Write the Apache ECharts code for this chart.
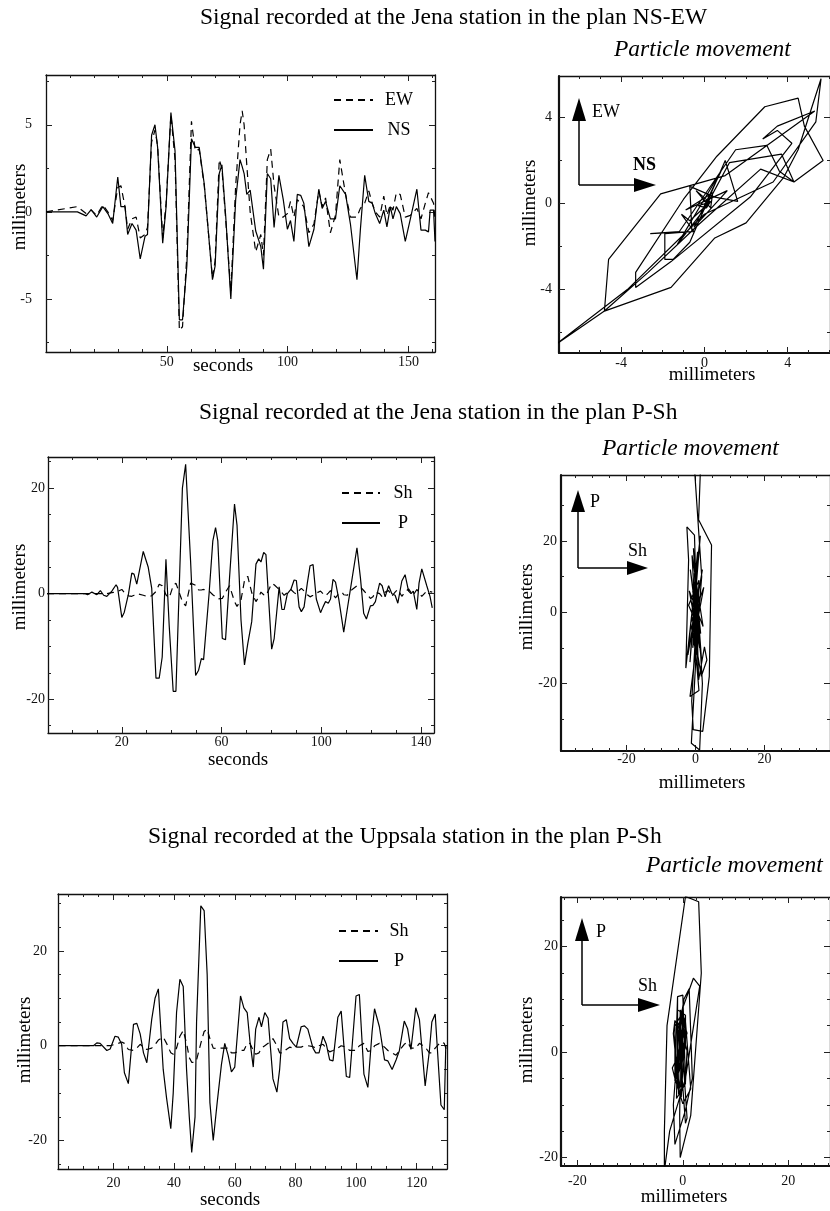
<!DOCTYPE html>
<html>
<head>
<meta charset="utf-8">
<script src="https://cdn.jsdelivr.net/npm/echarts@6/dist/echarts.min.js"></script>
<style>
  html, body { margin: 0; background: #fff; }
  #chart { width: 830px; height: 1211px; }
</style>
</head>
<body>
<div id="chart"></div>
<script>
// Jena, plan NS-EW (seconds / millimeters)
const t1 = [0, 13, 16.6, 18.7, 21, 23.5, 25.6, 27.6, 29.7, 31,
  32.7, 33.8, 35.6, 37.3, 39, 41, 42, 43.7, 45.1, 46.2,
  48.3, 49.7, 51.7, 53.4, 55.2, 56.5, 58.3, 60.2, 61.8, 63.4,
  65.5, 68.9, 70, 71.7, 72.8, 74.4, 76.5, 78.5, 80.3, 81.2,
  82, 83.1, 84.5, 86.8, 88.9, 90, 91.6, 93, 94.4, 96.4,
  98.2, 99.9, 101.2, 102.6, 104, 105.4, 106.7, 108.8, 110.9, 112.9,
  114.3, 115.7, 117.7, 119.8, 121.6, 124, 126, 128.7, 130.1, 131.9,
  133.6, 135, 136.3, 138.1, 139.8, 141.1, 142.5, 143.6, 145, 146.6,
  148.7, 150.8, 153.5, 155.2, 157, 158.3, 159, 160.4, 161];
const ns = [0, 0, -0.23, 0.13, -0.3, 0.3, -0.1, -0.67, 2.0, 0.3,
  0.3, -1.3, -0.67, -1.05, -2.7, -1.4, -1.3, 4.4, 5.0, 3.7,
  -1.8, 0.3, 5.7, 3.5, -6.2, -6.2, -3.1, 4.2, 3.7, 3.7,
  1.6, -3.9, -3.1, 2.2, 2.7, -0.3, -5.0, 0.7, 3.0, 2.6,
  2.2, 1.0, 1.25, -1.1, -2.0, -3.3, 2.2, 1.9, -0.9, 2.1,
  0.7, -1.0, -0.5, -1.7, 1.0, 0.95, 0.5, -2.0, -1.0, 1.3,
  0.2, 0.6, -0.4, -0.4, 1.5, 1.0, -0.7, -3.9, -1.05, 2.1,
  0.6, 0.5, -0.1, -0.67, 0.1, -0.86, 0.3, -0.4, 0.3, -0.1,
  -1.7, -0.4, 1.3, -1.05, -1.05, -1.15, 0.1, 0.1, -1.7];
const ew = [0, 0.3, -0.1, 0.1, -0.2, 0.4, 0, -0.5, 1.4, 1.5,
  0.3, -1.0, -0.4, -0.3, -1.5, -1.3, -0.9, 4.0, 4.7, 3.8,
  -1.5, 0.5, 5.6, 3.0, -6.8, -6.6, -2.5, 5.2, 3.5, 3.6,
  1.5, -3.8, -2.8, 3.0, 2.5, -0.5, -4.6, 1.5, 5.0, 5.8,
  5.0, 2.7, 0, -2.3, -1.3, -2.5, 3.0, 3.6, 1.5, -0.3,
  -0.3, -0.1, 0.6, -0.3, 0.7, 0.5, 0.3, -1.2, -0.7, 1.2,
  0.3, 0.8, -1.2, -0.2, 3.0, 1.0, -0.3, -0.3, 0.2, 0.5,
  1.2, 0.5, 0, -0.3, 0.9, -0.2, 0.4, 0.1, 1.1, 1.0,
  -0.3, -0.2, 0.2, -0.4, 0.5, 1.1, 1.0, 0.5, -0.5];

// particle path NS (x) / EW (y)
const pathNsEw = [[0, 0], [0.3, 0.1], [0.1, -0.2], [-0.3, -0.1], [0.25, 0.05],
  [-0.7, -0.8], [-1.1, -0.5], [-0.5, -1.3], [-1.9, -1.4], [-1.9, -2.6],
  [-1.5, -2.6], [-0.7, -1.8], [1.0, 2.0], [1.6, 0.1], [0.5, 0.3],
  [-0.7, 0.8], [-0.6, -1.3], [-2.6, -1.4], [-1.2, -1.3], [1.5, 2.5],
  [3.0, 2.7], [3.6, 1.5], [4.3, 1.0], [5.7, 2.0], [4.8, 3.6],
  [4.5, 4.9], [2.9, 4.5], [0.6, 2.2], [-1.0, 0.2], [-3.3, -3.2],
  [-3.3, -3.9], [-1.6, -2.7], [2.2, 0.3], [4.2, 2.8], [3.5, 3.4],
  [2.8, 3.0], [3.5, 3.6], [5.3, 4.3], [1.0, 1.3], [-2.1, 0.45],
  [-4.6, -2.6], [-4.8, -5.0], [-1.6, -3.9], [0.5, -1.6], [2.0, -0.9],
  [3.8, 1.2], [4.5, 2.5], [5.6, 5.8], [5.35, 3.8], [3.3, 1.0],
  [0.0, -0.5], [-3.7, -4.0], [-7.2, -6.6], [-4.8, -5.0], [-2.7, -3.2],
  [-0.3, -1.0], [2.7, 1.6], [4.3, 1.0], [3.7, 2.3], [1.2, 1.9],
  [0.2, 0.1], [-0.4, 0.6], [0.3, -0.2], [0.4, 0.5], [-0.9, -0.3],
  [1.1, 0.6], [-0.5, -1.1], [0.8, 1.5], [-1.3, -1.9], [0.2, 0.0]];

// Jena, plan P-Sh
const t3 = [-10, 5.4, 6.3, 8, 10, 11.4, 12.7, 14, 16, 17.7,
  18.3, 20, 21, 22.7, 24, 24.9, 26, 28.6, 30.6, 32,
  33.7, 35, 36.2, 37.7, 39, 40.6, 41.7, 44.3, 45.6, 47.6,
  49.6, 50.8, 51.9, 52.8, 55, 56.5, 57.6, 58.5, 60.3, 61.6,
  63.2, 65.2, 66.2, 67.8, 69.2, 70.5, 72.1, 73.8, 74.9, 75.8,
  76.9, 77.8, 80.1, 81.1, 83.1, 84.2, 85.1, 86.4, 87.8, 89.1,
  90, 91.1, 92, 93.1, 94.4, 95.5, 96.7, 98, 99.7, 100.7,
  101.7, 102.8, 103.7, 104.7, 105.7, 107, 108.4, 109, 110.4, 112.4,
  114.3, 115.7, 117, 118.1, 119.7, 120.7, 121.7, 123.4, 124.4, 125.6,
  127, 128.3, 129.6, 130.7, 132.3, 133.6, 135, 136, 136.9, 138.3,
  139.2, 140.3, 142.3, 143.6, 144.5];
const pJena = [0, 0, -0.2, 0.3, -0.2, 0.6, -0.3, -0.5, 0.5, 1.7,
  1.2, -4.5, -3.5, 0, 3.9, 3.7, 1.8, 8.0, 5.0, 1.0,
  -16, -16, -12, 6.5, -6, -18.5, -18.5, 20, 24.5, 6,
  -15.5, -14.5, -12.3, -12.5, 0, 10, 12.5, 10, -8.5, -8.7,
  3, 17, 13, -5, -13.5, -9.5, -5.3, 5.6, 6.6, 6.0,
  7.8, 7.4, -10.5, -8.5, 1.3, -3, -3, 0, 0.8, 2.6,
  2.5, -2.5, -3.4, -2.5, 2.0, 5.3, 5.5, -1, -3.6, -2.5,
  -1.5, -1.8, -1, 2.7, 2.2, -1, -5.4, -7.3, -3, 3,
  8.7, 3, -3.7, -4.8, -2.3, -2.2, -1.5, 2, 1.5, -0.6,
  1.5, 0, -0.3, -1.8, 2.4, 3.6, 0.5, 0, 0.5, -3,
  2, 4.7, 1.5, -0.5, -2.7];
const shJena = [0, 0, 0, 0, 0, 0, 0, 0, 0.2, 0.3,
  0.5, 0.8, 0.2, -0.4, -0.5, -0.3, 0, -0.3, -0.6, -0.4,
  0.4, 1.8, 1.5, -0.2, -0.8, 1.5, 2.0, -1.5, -2.3, 2.0,
  1.6, 0.7, 0.7, 0.8, 0.5, -0.2, -0.6, -1.0, -0.9, 0.3,
  1.5, -1.5, -2.4, -1.2, 2.5, 3.3, 0.2, -1.5, -0.6, 0.3,
  -0.2, -0.4, 1.9, 1.7, 0.8, 0.2, -0.3, 0.2, 0.8, 0.2,
  -0.1, 0.6, 1.0, 0.5, -0.2, -0.6, -0.3, 0.1, 0.5, 0,
  -0.4, 0.1, 0.6, -0.1, -0.8, 0, 0.2, -0.2, -0.3, 0.8,
  1.5, 1.3, 0.6, 0, -0.9, -0.6, 0.3, 0, -0.6, 0.3,
  0.6, -0.5, 0.3, 0.8, -0.5, 0.3, 0.9, 0.2, -0.3, 0.8,
  0.2, -0.5, 0.5, 0.4, 0.3];

// particle path Sh (x) / P (y) at Jena
const pathJena = [[0, 0], [0.8, 4], [-0.6, -3], [1.2, 8], [-1.3, -7],
  [2.0, 12], [-2.2, -12], [0.6, 17], [-1.6, -14], [1.4, 21.5],
  [-2.8, -15.7], [-2.0, 14.7], [-2.5, 24], [-0.3, 21.7], [0.9, -19],
  [2.6, -9.7], [3.3, -13.4], [1.7, -18], [-0.4, -6], [1.0, -22],
  [-1.6, -23.7], [-0.2, -13], [1.8, 10], [-0.4, 42], [1.5, 42],
  [0.9, 26], [4.65, 18.9], [4.0, -18], [2.1, -33.5], [-0.65, -33],
  [-1.1, -25], [0.5, 2], [1.2, -8], [-0.8, 6], [0.6, -4],
  [-1.2, -36.8], [1.2, -38.7], [2.0, -20], [0.3, 8], [-0.8, -10],
  [1.5, 5], [-0.5, 0], [0.5, -2], [-1.5, 12], [1.8, -14],
  [-0.6, 18], [1.2, -10], [-1.8, 6], [2.2, -4], [-1.0, 16],
  [0.8, -16], [-0.3, 11], [1.5, -6], [-2.0, 2], [1.0, 9],
  [0.2, -12], [-1.4, -3], [2.4, 7], [-0.5, -8], [0.7, 4], [0, 0]];

// Uppsala, plan P-Sh
const t5 = [1.9, 13.4, 14.5, 15.6, 17.8, 18.9, 20.5, 21.6, 22.7, 23.6,
  24.9, 26.6, 27.7, 28.8, 29.9, 31, 32.6, 33.7, 34.8, 36.4,
  37.5, 38.9, 39.7, 40.8, 41.9, 43, 44.1, 45, 45.8, 46.9,
  47.4, 48.8, 49.9, 50.9, 51.8, 52.9, 54.2, 55.6, 56.7, 57.8,
  58.9, 60, 61.9, 63, 64.1, 65, 66.1, 66.9, 68, 68.8,
  69.9, 71, 72.6, 73.9, 74.8, 75.9, 77, 78.1, 79.2, 80.3,
  81.9, 83, 84.1, 85.8, 86.7, 87.8, 89.1, 90.2, 91.3, 92.4,
  94, 95.1, 96.8, 97.9, 100, 101.1, 102.6, 103.9, 105.3, 106.1,
  107.7, 109.4, 110.5, 111.9, 113.2, 114.3, 115.9, 117, 118.1, 119.7,
  120.9, 122.8, 124.2, 125, 126.1, 128, 129.1, 129.6, 130.2];
const pUpp = [0, 0, 0.6, 0.5, -1, -0.7, 2.0, 1.8, 0.3, -5.7,
  -8, 4.5, 4.7, 2.5, -1.5, -3.6, 5.5, 10, 12, -5,
  -11, -17.5, -10, 7, 14, 12.5, -5, -15, -22.5, -15,
  5, 29.5, 28.5, 15, -12, -20, -12, -4, 0.5, -2,
  -5.5, -4.5, 10.5, 8, 7, 1, -4.5, 3.5, 6, 4,
  7, 5.8, -7, -9.8, -5, 5, 5.5, 1.5, 0.5, -0.3,
  4, 4.2, 3.5, -0.5, -1.5, -1.5, 2.0, 0.3, -3, -3.2,
  6, 7.3, -6.5, -6.7, 10.5, 10.8, -6, -8.8, 3, 7.8,
  4, -3, -3.2, -5, -3, -1, 5.2, 3.6, -0.8, 8,
  5.5, -8.5, -1, 5, 6.7, -12.5, -13.5, 0, 0];
const shUpp = [0, 0, 0, 0, 0, 0, 0.3, 0.5, 0.8, 0.5,
  -0.8, -1.0, -0.5, 0.3, -0.3, -0.8, -0.5, 0.2, 1.2, 1.8,
  0.5, -1.5, -1.8, -0.5, 2.0, 3.2, 0.5, -2.5, -3.5, -3.5,
  -3.0, 0.5, 3.0, 3.5, 1.5, -0.5, -0.6, -0.5, -0.5, -0.5,
  -1.5, -1.5, -1.0, -1.0, 0.5, 0.5, -1.0, -1.8, -1.5, -0.5,
  0, 0.5, 1.5, 0, -1.5, -1.5, -0.8, -0.3, -0.5, -0.3,
  -0.3, 0, 0, -0.2, -0.5, 0, 0.3, -0.5, -1.3, -1.0,
  -0.5, 0, -0.3, -1.0, -1.0, 0, 0.5, -1.2, -1.0, 0,
  0.5, -0.3, -1.0, -1.5, -2.0, -1.0, 0.3, 0.8, -0.5, -0.5,
  0.5, -0.3, -1.5, -1.5, -0.5, 0.8, 0.5, -0.5, -0.5];

const titles = [
  'Signal recorded at the Jena station in the plan NS-EW',
  'Signal recorded at the Jena station in the plan P-Sh',
  'Signal recorded at the Uppsala station in the plan P-Sh'
];

const serif = '"Liberation Serif", "DejaVu Serif", serif';

function steps(a, b, s, skip) {
  const out = [];
  for (let v = a; v <= b + 1e-9; v += s) {
    const r = Math.round(v * 100) / 100;
    if (!skip.includes(r)) out.push(r);
  }
  return out;
}

// layout of the six boxes (pixels) and their axis ranges / ticks
const panels = [
  { left: 46, top: 75, width: 389, height: 277, x: [0, 161], y: [-8.05, 7.86],
    xMajor: [50, 100, 150], xMinor: steps(10, 160, 10, [50, 100, 150]),
    yMajor: [-5, 0, 5], yMinor: [-7.5, -2.5, 2.5, 7.5], xm: 3, ym: 14, heavy: false },
  { left: 559, top: 76, width: 279, height: 277, x: [-6.98, 6.03], y: [-6.95, 5.93],
    xMajor: [-4, 0, 4], xMinor: steps(-6, 6, 1, [-4, 0, 4]),
    yMajor: [-4, 0, 4], yMinor: [-6, -2, 2], xm: 3, ym: 7, heavy: true },
  { left: 48, top: 457, width: 386, height: 276, x: [-9.6, 145.2], y: [-26.4, 25.9],
    xMajor: [20, 60, 100, 140], xMinor: steps(0, 140, 10, [20, 60, 100, 140]),
    yMajor: [-20, 0, 20], yMinor: steps(-25, 25, 5, [-20, 0, 20]), xm: 2, ym: 3, heavy: false },
  { left: 561, top: 475, width: 279, height: 276, x: [-39, 39], y: [-39, 38.6],
    xMajor: [-20, 0, 20], xMinor: steps(-35, 35, 5, [-20, 0, 20]),
    yMajor: [-20, 0, 20], yMinor: [-30, -10, 10, 30], xm: 1, ym: 4, heavy: true },
  { left: 58, top: 894, width: 389, height: 275, x: [1.7, 130], y: [-26, 32],
    xMajor: [20, 40, 60, 80, 100, 120], xMinor: steps(5, 125, 5, [20, 40, 60, 80, 100, 120]),
    yMajor: [-20, 0, 20], yMinor: steps(-25, 30, 5, [-20, 0, 20]), xm: 7, ym: 11, heavy: false },
  { left: 561, top: 897, width: 271, height: 269, x: [-23.1, 27.9], y: [-21.6, 29.4],
    xMajor: [-20, 0, 20], xMinor: steps(-22.5, 27.5, 2.5, [-20, 0, 20]),
    yMajor: [-20, 0, 20], yMinor: steps(-15, 25, 5, [-20, 0, 20]), xm: 8, ym: 3, heavy: true }
];

function axis(gi, pos, range, ticks, len, labels, margin, line, lw) {
  return {
    type: 'value', gridIndex: gi, position: pos, min: range[0], max: range[1],
    axisLine: { show: line, onZero: false, lineStyle: { color: '#111', width: lw } },
    axisTick: { show: true, inside: true, length: len, customValues: ticks,
      lineStyle: { color: '#222', width: 1 } },
    axisLabel: { show: !!labels, customValues: labels || [], margin: margin,
      color: '#111', fontFamily: serif, fontSize: 14 },
    splitLine: { show: false }
  };
}

const grid = [], xAxis = [], yAxis = [];
panels.forEach((p, i) => {
  grid.push({ left: p.left, top: p.top, width: p.width, height: p.height });
  const thick = p.heavy ? 2.2 : 1.3;
  xAxis.push(
    axis(i, 'bottom', p.x, p.xMajor, 6, p.xMajor, p.xm, true, thick),
    axis(i, 'bottom', p.x, p.xMinor, 3, null, 0, false, 1),
    axis(i, 'top', p.x, p.xMajor, 6, null, 0, true, 1.3),
    axis(i, 'top', p.x, p.xMinor, 3, null, 0, false, 1)
  );
  yAxis.push(
    axis(i, 'left', p.y, p.yMajor, 6, p.yMajor, p.ym, true, thick),
    axis(i, 'left', p.y, p.yMinor, 3, null, 0, false, 1),
    axis(i, 'right', p.y, p.yMajor, 6, null, 0, true, 1.3),
    axis(i, 'right', p.y, p.yMinor, 3, null, 0, false, 1)
  );
});

function trace(name, gi, data, dashed) {
  return {
    type: 'line', name: name, xAxisIndex: gi * 4, yAxisIndex: gi * 4,
    data: data, symbol: 'none', silent: true, color: '#000',
    lineStyle: { color: '#000', width: 1.2, type: dashed ? [7, 5] : 'solid' }
  };
}
const pairs = (a, b) => a.map((v, k) => [v, b[k]]);

const series = [
  trace('EW', 0, pairs(t1, ew), true),
  trace('NS', 0, pairs(t1, ns), false),
  trace('NS-EW path', 1, pathNsEw, false),
  trace('Sh', 2, pairs(t3, shJena), true),
  trace('P', 2, pairs(t3, pJena), false),
  trace('Jena P-Sh path', 3, pathJena, false),
  trace('Sh', 4, pairs(t5, shUpp), true),
  trace('P', 4, pairs(t5, pUpp), false),
  trace('Uppsala P-Sh path', 5, pairs(shUpp, pUpp), false)
];

function legendAt(names, left, top, w, tw) {
  return {
    data: names, left: left, top: top, orient: 'vertical', selectedMode: false,
    itemWidth: w, itemHeight: 14, itemGap: 12, padding: 0,
    itemStyle: { opacity: 0 },
    formatter: '{c|{name}}',
    textStyle: { rich: { c: { width: tw, align: 'center', fontSize: 18,
      fontFamily: serif, color: '#000' } } }
  };
}

const txt = (x, y, s, opt) => ({
  type: 'text', x: x, y: y, rotation: (opt && opt.rot) || 0,
  style: Object.assign({ text: s, fill: '#000', fontFamily: serif, fontSize: 19,
    align: 'center', verticalAlign: 'middle' }, opt && opt.style)
});
const seg = (x1, y1, x2, y2) => ({ type: 'line', shape: { x1, y1, x2, y2 },
  style: { stroke: '#000', lineWidth: 1.5 } });
const tri = (pts) => ({ type: 'polygon', shape: { points: pts }, style: { fill: '#000' } });

function axesCross(cx, cy, upTip, upBase, rightTip, rightBase, hw) {
  return [
    seg(cx, cy, cx, upBase), tri([[cx, upTip], [cx - hw, upBase], [cx + hw, upBase]]),
    seg(cx, cy, rightBase, cy), tri([[rightTip, cy], [rightBase, cy - hw], [rightBase, cy + hw]])
  ];
}

const ital = { fontStyle: 'italic', fontSize: 23.5, align: 'left' };
const big = { fontSize: 23.5, align: 'left' };
const graphic = [
  txt(200, 18, titles[0], { style: big }),
  txt(199, 413, titles[1], { style: big }),
  txt(148, 837, titles[2], { style: big }),
  txt(614, 50, 'Particle movement', { style: ital }),
  txt(602, 449, 'Particle movement', { style: ital }),
  txt(646, 866, 'Particle movement', { style: ital }),
  txt(20, 207, 'millimeters', { rot: Math.PI / 2 }),
  txt(223, 366, 'seconds'),
  txt(530, 203, 'millimeters', { rot: Math.PI / 2 }),
  txt(712, 375, 'millimeters'),
  txt(20, 587, 'millimeters', { rot: Math.PI / 2 }),
  txt(238, 760, 'seconds'),
  txt(527, 607, 'millimeters', { rot: Math.PI / 2 }),
  txt(702, 783, 'millimeters'),
  txt(25, 1040, 'millimeters', { rot: Math.PI / 2 }),
  txt(230, 1200, 'seconds'),
  txt(527, 1040, 'millimeters', { rot: Math.PI / 2 }),
  txt(684, 1197, 'millimeters'),
  ...axesCross(579, 185, 98, 121, 656, 634, 7),
  txt(592, 112, 'EW', { style: { align: 'left', fontSize: 18 } }),
  txt(633, 165, 'NS', { style: { align: 'left', fontSize: 18, fontWeight: 'bold' } }),
  ...axesCross(578, 568, 490, 512, 648, 627, 7),
  txt(590, 502, 'P', { style: { align: 'left', fontSize: 18 } }),
  txt(628, 551, 'Sh', { style: { align: 'left', fontSize: 18 } }),
  ...axesCross(582, 1005, 918, 941, 660, 638, 7),
  txt(596, 932, 'P', { style: { align: 'left', fontSize: 18 } }),
  txt(638, 986, 'Sh', { style: { align: 'left', fontSize: 18 } })
];

const chart = echarts.init(document.getElementById('chart'));
chart.setOption({
  backgroundColor: '#fff',
  animation: false,
  grid: grid,
  xAxis: xAxis,
  yAxis: yAxis,
  legend: [
    legendAt(['EW', 'NS'], 333, 91, 39, 42),
    legendAt(['Sh', 'P'], 341, 484, 38, 36),
    legendAt(['Sh', 'P'], 338, 922, 39, 32)
  ],
  series: series,
  graphic: graphic
});
</script>
</body>
</html>
